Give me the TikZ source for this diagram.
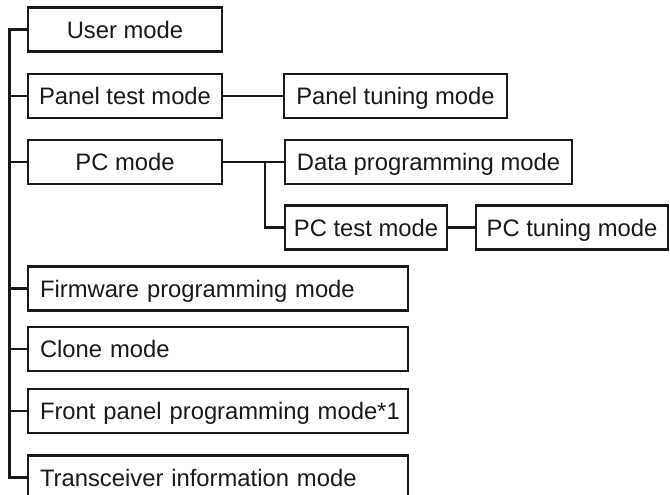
\documentclass[tikz,border=0pt]{standalone}
\usepackage{fontspec}
\setmainfont{Liberation Sans}
\usepackage{tikz}
\usetikzlibrary{positioning}
\newcommand{\modefont}{\fontsize{11.9}{14}\selectfont}
\tikzset{
    modebox/.style={draw=black!90, line width=1.1pt, minimum height=22pt, inner sep=0pt, text height=8.6pt, text depth=0pt, font=\modefont, text=black!90},
    widebox/.style={modebox, text width=190pt, align=left, execute at begin node=\hspace*{6pt}},
    link/.style={line width=1.1pt, draw=black!90}
}
\begin{document}
\begin{tikzpicture}[x=0.5pt, y=-0.5pt]
    \useasboundingbox (0,0) rectangle (670,494);
    % main modes
    \node[modebox, minimum width=97pt] (user) at (125,29.5) {User mode};
    \node[modebox, minimum width=97pt] (paneltest) at (125,96) {Panel test mode};
    \node[modebox, minimum width=97pt] (pc) at (125,162) {PC mode};
    \node[widebox] (firmware) at (218,288.5) {Firmware programming mode};
    \node[widebox] (clone) at (218,349) {Clone mode};
    \node[widebox] (frontpanel) at (218,411) {Front panel programming mode*1};
    \node[widebox] (transceiver) at (218,477.5) {Transceiver information mode};
    % sub modes
    \node[modebox, minimum width=111.5pt] (paneltune) at (395.5,96) {Panel tuning mode};
    \node[modebox, minimum width=143.5pt] (dataprog) at (428.5,162) {Data programming mode};
    \node[modebox, minimum width=81pt] (pctest) at (366,227.5) {PC test mode};
    \node[modebox, minimum width=96pt] (pctune) at (572,227.5) {PC tuning mode};
    \coordinate (trunk) at (9.5,29.5);
    \coordinate (branch) at (265,162);
    % connectors
    \draw[link] (user.west) -- (trunk) |- (transceiver.west);
    \foreach \m in {paneltest, pc, firmware, clone, frontpanel}
        \draw[link] (\m.west) -- (\m.west -| trunk);
    \draw[link] (paneltest) -- (paneltune);
    \draw[link] (pc) -- (dataprog);
    \draw[link] (branch) |- (pctest.west);
    \draw[link] (pctest) -- (pctune);
\end{tikzpicture}
\end{document}
